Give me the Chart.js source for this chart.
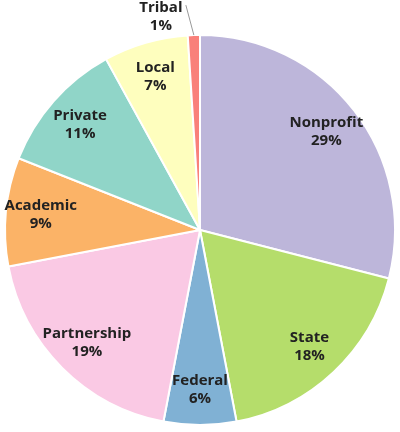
<!DOCTYPE html>
<html>
<head>
<script src="https://cdn.jsdelivr.net/npm/chart.js@4"></script>
<style>body{margin:0;background:#fff}#wrap{width:400px;height:432px}</style>
</head>
<body>
<div id="wrap"><canvas id="c"></canvas></div>
<script>
const labels = ['Nonprofit', 'State', 'Federal', 'Partnership', 'Academic', 'Private', 'Local', 'Tribal'];
const values = [29, 18, 6, 19, 9, 11, 7, 1];
const colors = ['#bdb6da', '#b5dd6b', '#80b1d4', '#fac9e4', '#fbb367', '#90d5c8', '#fefebe', '#f9807a'];

const labelPlugin = {
  id: 'sliceLabels',
  afterDatasetsDraw(chart) {
    const ctx = chart.ctx;
    const meta = chart.getDatasetMeta(0);
    ctx.save();
    ctx.font = 'bold 15px "Open Sans", sans-serif';
    ctx.fillStyle = '#222';
    ctx.textAlign = 'center';
    ctx.textBaseline = 'middle';
    meta.data.forEach((arc, i) => {
      const p = arc.getProps(['x', 'y', 'startAngle', 'endAngle', 'outerRadius']);
      const a = (p.startAngle + p.endAngle) / 2;
      let r = p.outerRadius * 0.82;
      let x = p.x + Math.cos(a) * r, y = p.y + Math.sin(a) * r;
      if (values[i] < 3) {
        const x0 = p.x + Math.cos(a) * p.outerRadius, y0 = p.y + Math.sin(a) * p.outerRadius;
        x = x0 - 33;
        ctx.strokeStyle = '#999';
        ctx.lineWidth = 1;
        ctx.beginPath();
        ctx.moveTo(x0, y0);
        ctx.lineTo(x0 - 8, y0 - 30);
        ctx.stroke();
        y = 17;
      }
      ctx.fillText(labels[i], x, y - 9);
      ctx.fillText(values[i] + '%', x, y + 9);
    });
    ctx.restore();
  }
};

new Chart(document.getElementById('c'), {
  type: 'pie',
  data: {
    labels: labels,
    datasets: [{
      data: values,
      backgroundColor: colors,
      borderColor: '#fff',
      borderWidth: 2
    }]
  },
  options: {
    responsive: true,
    maintainAspectRatio: false,
    animation: false,
    layout: { padding: { top: 34, bottom: 6, left: 4, right: 4 } },
    plugins: { legend: { display: false }, tooltip: { enabled: false } }
  },
  plugins: [labelPlugin]
});
</script>
</body>
</html>
